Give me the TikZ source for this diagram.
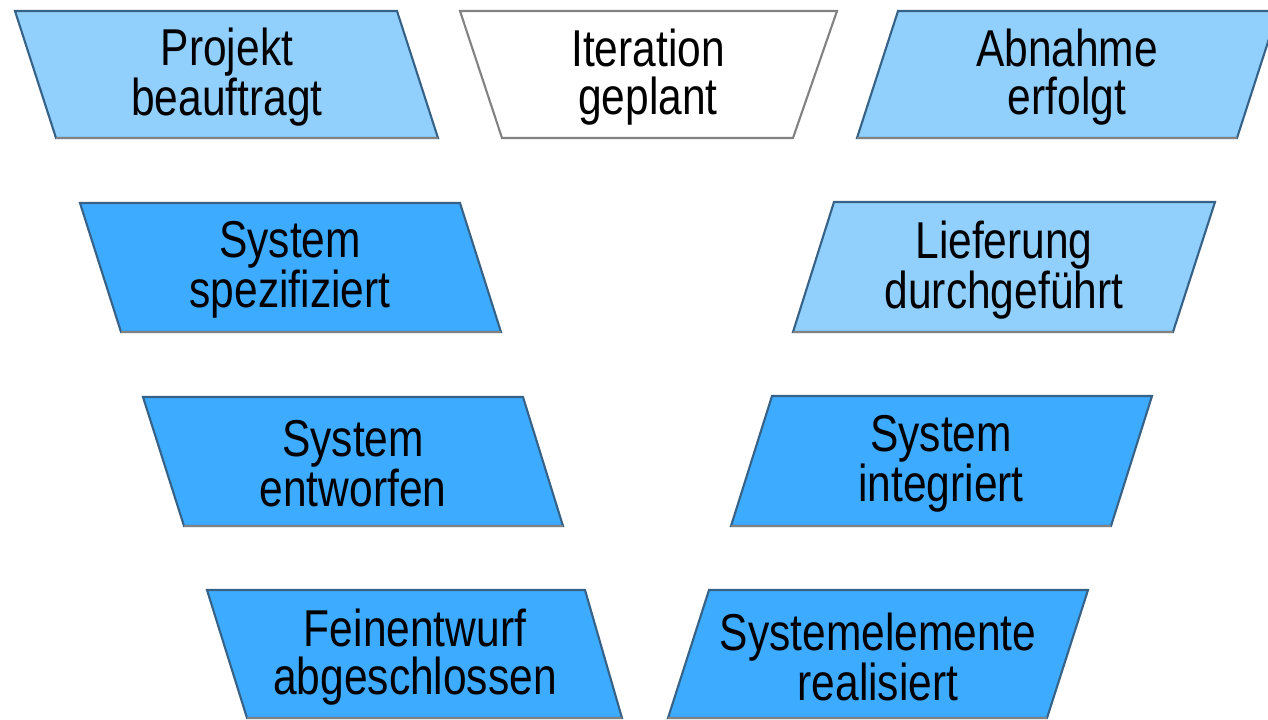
\documentclass[tikz,border=0pt]{standalone}
\usepackage{fontspec}
\usepackage{tikz}
\newfontfamily\lblfont{Liberation Sans}[FakeStretch=0.82]
\definecolor{palesky}{RGB}{145,208,253}
\definecolor{deepsky}{RGB}{61,171,255}
\definecolor{rimblue}{RGB}{55,98,135}
\definecolor{rimgray}{RGB}{130,130,130}

\tikzset{
	palebox/.style={fill=palesky, draw=rimblue, line width=1.2pt},
	deepbox/.style={fill=deepsky, draw=rimblue, line width=1.2pt},
	plainbox/.style={fill=white, draw=rimgray, line width=1.2pt},
	baseline edge/.style={draw=rimgray, line width=1.2pt},
	lbl/.style={align=center, inner sep=0pt, text=black, font=\lblfont\fontsize{29.5}{27.3}\selectfont}
}

\begin{document}
\begin{tikzpicture}[x=0.02cm, y=-0.02cm]
	\useasboundingbox (0,0) rectangle (1268,720);

	% top row
	\draw[palebox] (15,11) -- (397,11) -- (438,138) -- (56,138) -- cycle;
	\draw[baseline edge] (56,138) -- (438,138);
	\node[lbl] (beauftragt) at (227,77) {Projekt\\beauftragt};

	\draw[plainbox] (460,11) -- (837,11) -- (793,138) -- (502,138) -- cycle;
	\node[lbl] (geplant) at (648,77) {Iteration\\geplant};

	\draw[palebox] (898,11) -- (1278,11) -- (1237,138) -- (857,138) -- cycle;
	\draw[baseline edge] (857,138) -- (1237,138);
	\node[lbl] (abnahme) at (1067,77) {Abnahme\\erfolgt};

	% second row
	\draw[deepbox] (80,203) -- (460,203) -- (501,332) -- (121,332) -- cycle;
	\draw[baseline edge] (121,332) -- (501,332);
	\node[lbl] (spezifiziert) at (290,270) {System\\spezifiziert};

	\draw[palebox] (834,202) -- (1215,202) -- (1173,332) -- (793,332) -- cycle;
	\draw[baseline edge] (793,332) -- (1173,332);
	\node[lbl] (lieferung) at (1004,270) {Lieferung\\durchgef\"uhrt};

	% third row
	\draw[deepbox] (143,397) -- (523,397) -- (563,526) -- (184,526) -- cycle;
	\draw[baseline edge] (184,526) -- (563,526);
	\node[lbl] (entworfen) at (353,464) {System\\entworfen};

	\draw[deepbox] (772,396) -- (1152,396) -- (1111,526) -- (731,526) -- cycle;
	\draw[baseline edge] (731,526) -- (1111,526);
	\node[lbl] (integriert) at (941,464) {System\\integriert};

	% bottom row
	\draw[deepbox] (207,590) -- (585,590) -- (622,718) -- (247,718) -- cycle;
	\draw[baseline edge] (247,718) -- (622,718);
	\node[lbl] (feinentwurf) at (415,657) {Feinentwurf\\abgeschlossen};

	\draw[deepbox] (709,590) -- (1088,590) -- (1047,718) -- (668,718) -- cycle;
	\draw[baseline edge] (668,718) -- (1047,718);
	\node[lbl] (realisiert) at (878,657) {Systemelemente\\realisiert};
\end{tikzpicture}
\end{document}
